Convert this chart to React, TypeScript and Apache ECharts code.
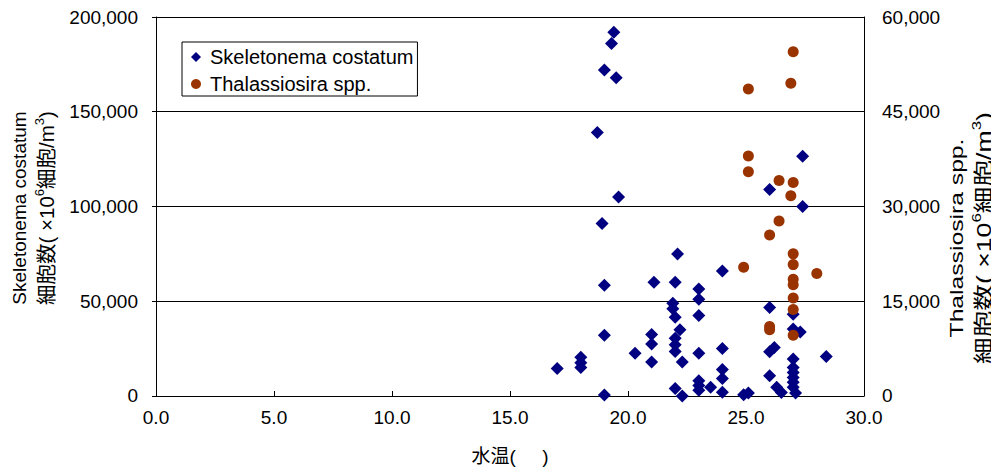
import React, { useEffect, useRef } from "react";
import * as echarts from "echarts";

const skelTemp = [19.4, 19.3, 19.0, 19.5, 18.7, 19.6, 18.9, 22.1, 24.0, 19.0, 21.1, 22.0, 23.0, 23.0, 21.9, 21.9, 22.0, 23.0, 22.2, 19.0, 21.0, 21.0, 22.0, 22.0, 22.0, 20.3, 23.0, 24.0, 21.0, 22.3, 17.0, 18.0, 18.0, 18.0, 24.0, 24.0, 23.0, 23.0, 23.0, 23.5, 22.0, 24.0, 19.0, 22.3, 27.4, 26.0, 27.4, 26.0, 27.0, 27.0, 27.3, 26.0, 26.2, 28.4, 27.0, 27.0, 27.0, 27.0, 27.0, 26.0, 24.9, 25.1, 26.3, 26.5, 27.0, 27.1];
const skelCells = [192000, 186000, 172000, 168000, 139000, 105000, 91000, 75000, 66000, 58500, 60000, 60000, 56500, 51000, 49000, 46000, 41500, 42500, 35000, 32000, 32500, 27500, 30500, 27000, 23500, 22500, 22500, 25000, 18000, 18000, 14500, 20500, 17500, 15000, 14000, 9300, 8000, 5500, 3000, 4600, 4000, 2000, 500, 0, 126500, 109000, 100000, 46700, 43200, 35300, 33800, 23300, 25600, 20900, 19500, 15100, 12400, 9800, 7200, 10700, 700, 1600, 4600, 1900, 4600, 1600];

const thalTemp = [25.1, 27.0, 26.9, 25.1, 25.1, 26.4, 27.0, 26.9, 26.4, 26.0, 24.9, 27.0, 27.0, 28.0, 27.0, 27.0, 27.0, 27.0, 26.0, 26.0, 27.0];
const thalCells = [48600, 54500, 49500, 38000, 35500, 34100, 33800, 31700, 27700, 25500, 20400, 22500, 20800, 19400, 18500, 17600, 15500, 13700, 11000, 10500, 9600];

const seriesNames = ["Skeletonema costatum", "Thalassiosira spp."];
const xAxisTitle = "水温(\u00A0\u00A0\u00A0\u00A0\u00A0)";

const FONT = 'Arial, "Liberation Sans", "Noto Sans CJK JP", sans-serif';

export default function App() {
  const ref = useRef<HTMLDivElement>(null);
  useEffect(() => {
    if (!ref.current) return;
    const chart = echarts.init(ref.current, undefined, { renderer: "svg" });
    const skelData = skelTemp.map((t, i) => [t, skelCells[i]]);
    const thalData = thalTemp.map((t, i) => [t, thalCells[i]]);
    const rich = {
      t: { fontSize: 19, fontFamily: FONT, color: "#000", lineHeight: 27 },
      a: { fontSize: 20.5, fontFamily: FONT, color: "#000", lineHeight: 27 },
      s: { fontSize: 13, fontFamily: FONT, color: "#000", lineHeight: 27, verticalAlign: "top" },
    };
    chart.setOption({
      animation: false,
      backgroundColor: "#fff",
      grid: { left: 156, right: 135, top: 17, bottom: 73, containLabel: false },
      legend: {
        orient: "vertical",
        left: 182,
        top: 42,
        padding: [5, 4, 2, 9],
        itemGap: 7,
        itemWidth: 10,
        itemHeight: 10,
        borderColor: "#000",
        borderWidth: 1,
        borderRadius: 0,
        backgroundColor: "#fff",
        textStyle: { fontSize: 20, fontFamily: FONT, color: "#000", padding: [0, 0, 0, 4] },
        data: [
          { name: seriesNames[0], icon: "diamond" },
          { name: seriesNames[1], icon: "circle" },
        ],
      },
      xAxis: {
        type: "value",
        min: 0,
        max: 30,
        interval: 5,
        axisLine: { show: true, lineStyle: { color: "#000", width: 1 } },
        axisTick: { show: true, inside: true, length: 5, lineStyle: { color: "#000" } },
        splitLine: { show: false },
        axisLabel: { fontSize: 19, fontFamily: FONT, color: "#000", margin: 12, formatter: (v: number) => v.toFixed(1) },
        name: xAxisTitle,
        nameLocation: "middle",
        nameGap: 51,
        nameTextStyle: { fontSize: 19, fontFamily: FONT, color: "#000" },
      },
      yAxis: [
        {
          type: "value",
          min: 0,
          max: 200000,
          interval: 50000,
          axisLine: { show: true, lineStyle: { color: "#000", width: 1 } },
          axisTick: { show: true, length: 4, lineStyle: { color: "#000" } },
          splitLine: { show: true, lineStyle: { color: "#000", width: 1 } },
          axisLabel: {
            fontSize: 19,
            fontFamily: FONT,
            color: "#000",
            margin: 18,
            formatter: (v: number) => v.toLocaleString("en-US"),
          },
        },
        {
          type: "value",
          min: 0,
          max: 60000,
          interval: 15000,
          position: "right",
          axisLine: { show: true, lineStyle: { color: "#000", width: 1 } },
          axisTick: { show: true, inside: true, length: 4, lineStyle: { color: "#000" } },
          splitLine: { show: false },
          axisLabel: {
            fontSize: 19,
            fontFamily: FONT,
            color: "#000",
            margin: 18,
            formatter: (v: number) => v.toLocaleString("en-US"),
          },
        },
      ],
      graphic: [
        {
          type: "text",
          x: 33,
          y: 208,
          rotation: Math.PI / 2,
          style: {
            text: "{t|Skeletonema costatum}\n{a|細胞数( ×10}{s|6}{a|細胞/m}{s|3}{a|)}",
            rich,
            align: "center",
            verticalAlign: "middle",
          },
        },
        {
          type: "text",
          x: 970,
          y: 238,
          rotation: Math.PI / 2,
          scaleX: 1.3,
          style: {
            text: "{t|Thalassiosira spp.}\n{a|細胞数( ×10}{s|6}{a|細胞/m}{s|3}{a|)}",
            rich,
            align: "center",
            verticalAlign: "middle",
          },
        },
      ],
      series: [
        {
          name: seriesNames[0],
          type: "scatter",
          symbol: "diamond",
          symbolSize: 13,
          yAxisIndex: 0,
          itemStyle: { color: "#000080", opacity: 1 },
          data: skelData,
        },
        {
          name: seriesNames[1],
          type: "scatter",
          symbol: "circle",
          symbolSize: 11,
          yAxisIndex: 1,
          itemStyle: { color: "#993300", opacity: 1 },
          data: thalData,
        },
      ],
    });
    return () => chart.dispose();
  }, []);
  return <div ref={ref} style={{ width: 999, height: 471, marginLeft: -8, marginTop: -8 }} />;
}
